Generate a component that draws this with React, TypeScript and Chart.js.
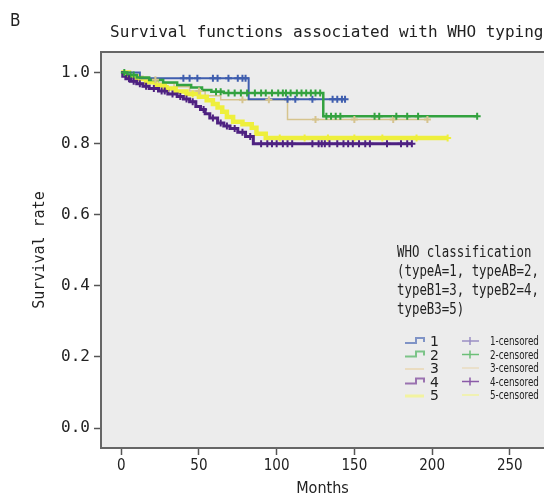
import React, { useEffect, useRef } from "react";
import { Chart, registerables } from "chart.js";

Chart.register(...registerables);

// ---- data ----
const panelLabel = "B";
const chartTitle = "Survival functions associated with WHO typing";
const xAxisTitle = "Months";
const yAxisTitle = "Survival rate";
const xTickValues = [0, 50, 100, 150, 200, 250];
const yTickValues = [0, 0.2, 0.4, 0.6, 0.8, 1.0];

const legendTitleLines = ["WHO classification", "(typeA=1, typeAB=2,", "typeB1=3, typeB2=4,", "typeB3=5)"];
const groupNames = ["1", "2", "3", "4", "5"];
const censorNames = ["1-censored", "2-censored", "3-censored", "4-censored", "5-censored"];

// group 1 (typeA)
const g1Times = [0, 12, 82];
const g1Surv = [1.0, 0.984, 0.925];
const g1Censored = [40, 44, 49, 59, 62, 69, 75, 78, 80, 107, 112, 123, 136, 139, 142, 144];

// group 2 (typeAB)
const g2Times = [0, 4, 10, 18, 27, 36, 45, 52, 58, 66, 130];
const g2Surv = [1.0, 0.993, 0.986, 0.979, 0.972, 0.965, 0.958, 0.951, 0.946, 0.943, 0.877];
const g2Censored = [2, 6, 8, 61, 64, 69, 73, 77, 81, 86, 90, 93, 97, 101, 104, 106, 109, 113, 116, 119, 122, 125, 128, 132, 135, 138, 141, 163, 166, 177, 184, 191, 229];

// group 3 (typeB1)
const g3Times = [0, 6, 14, 24, 34, 44, 54, 64, 107];
const g3Surv = [1.0, 0.99, 0.98, 0.97, 0.96, 0.948, 0.935, 0.924, 0.868];
const g3Censored = [22, 50, 78, 95, 125, 150, 175, 197];

// group 4 (typeB2)
const g4Times = [0, 1, 3, 6, 10, 14, 18, 24, 30, 36, 40, 44, 48, 51, 54, 57, 62, 66, 70, 75, 80, 85];
const g4Surv = [1.0, 0.99, 0.983, 0.976, 0.969, 0.962, 0.955, 0.948, 0.94, 0.933, 0.926, 0.918, 0.905, 0.896, 0.884, 0.872, 0.858, 0.85, 0.843, 0.832, 0.82, 0.8];
const g4Censored = [5, 8, 12, 16, 21, 26, 28, 33, 38, 42, 46, 53, 59, 64, 68, 73, 78, 83, 90, 94, 97, 100, 104, 107, 110, 123, 127, 129, 131, 134, 139, 143, 146, 149, 153, 157, 160, 171, 180, 184, 187];

// group 5 (typeB3)
const g5Times = [0, 5, 10, 16, 22, 28, 35, 42, 50, 55, 59, 62, 65, 68, 72, 78, 84, 87, 93];
const g5Surv = [1.0, 0.99, 0.982, 0.973, 0.964, 0.955, 0.947, 0.94, 0.932, 0.922, 0.912, 0.902, 0.89, 0.875, 0.862, 0.855, 0.845, 0.828, 0.816];
const g5Censored = [30, 46, 102, 118, 133, 150, 168, 190, 210];

// ---- styles ----
const lineColors = ["#3f5eae", "#33a23f", "#d6c48e", "#4e2181", "#eeef3c"];
const legendLineColors = ["#7f93c6", "#7cc488", "#eadcc0", "#9a72b0", "#f2f3a0"];
const legendCrossColors = ["#9a8fc4", "#6cbf78", "#eadcc0", "#8a5aa8", "#f2f3a0"];
const lineWidths = [2, 2.5, 1.5, 3, 4.5];
const drawOrder = [2, 1, 4, 0, 3]; // lower = on top

function survAt(times: number[], surv: number[], t: number) {
  let s = surv[0];
  for (let i = 0; i < times.length; i++) if (times[i] <= t) s = surv[i];
  return s;
}

function buildLine(times: number[], surv: number[], censored: number[]) {
  const pts = times.map((t, i) => ({ x: t, y: surv[i] }));
  const end = Math.max(...censored);
  pts.push({ x: end, y: surv[surv.length - 1] });
  return pts;
}

function buildCensor(times: number[], surv: number[], censored: number[]) {
  return censored.map((t) => ({ x: t, y: survAt(times, surv, t) }));
}

const groups = [
  [g1Times, g1Surv, g1Censored],
  [g2Times, g2Surv, g2Censored],
  [g3Times, g3Surv, g3Censored],
  [g4Times, g4Surv, g4Censored],
  [g5Times, g5Surv, g5Censored],
] as number[][][];

const decorPlugin = {
  id: "decor",
  beforeDraw(chart: any) {
    const { ctx, chartArea } = chart;
    ctx.save();
    ctx.fillStyle = "#ececec";
    ctx.fillRect(chartArea.left, chartArea.top, chart.width - chartArea.left, chartArea.bottom - chartArea.top);
    ctx.restore();
  },
  afterDraw(chart: any) {
    const { ctx, chartArea } = chart;
    ctx.save();
    ctx.fillStyle = "#222";
    ctx.textBaseline = "alphabetic";
    ctx.textAlign = "left";
    ctx.font = '17px "DejaVu Sans Condensed", "DejaVu Sans", sans-serif';
    ctx.fillText(panelLabel, 10, 26);
    ctx.font = '16px "DejaVu Sans Mono", monospace';
    ctx.fillText(chartTitle, 110, 37);

    // top frame
    ctx.strokeStyle = "#666";
    ctx.lineWidth = 2;
    ctx.beginPath();
    ctx.moveTo(chartArea.left - 1, chartArea.top);
    ctx.lineTo(chart.width, chartArea.top);
    ctx.stroke();

    // legend title
    ctx.fillStyle = "#222";
    ctx.save();
    ctx.scale(0.8, 1);
    ctx.font = '15.5px "DejaVu Sans Mono", monospace';
    const baselines = [257, 276, 295, 314];
    legendTitleLines.forEach((l, i) => ctx.fillText(l, 397 / 0.8, baselines[i]));
    ctx.restore();

    // legend items
    const rows = [341, 354.5, 368, 381.5, 395];
    rows.forEach((cy, i) => {
      ctx.strokeStyle = legendLineColors[i];
      ctx.lineWidth = i === 4 ? 3 : 2;
      ctx.beginPath();
      if (i === 2 || i === 4) {
        ctx.moveTo(405, cy + 1);
        ctx.lineTo(424, cy + 1);
      } else {
        ctx.moveTo(405, cy + 2);
        ctx.lineTo(416, cy + 2);
        ctx.lineTo(416, cy - 3);
        ctx.lineTo(424, cy - 3);
        ctx.lineTo(424, cy + 1);
      }
      ctx.stroke();
      // censor icon
      ctx.strokeStyle = legendCrossColors[i];
      ctx.lineWidth = 1.5;
      ctx.beginPath();
      ctx.moveTo(462, cy);
      ctx.lineTo(479, cy);
      if (i !== 2 && i !== 4) {
        ctx.moveTo(470, cy - 4);
        ctx.lineTo(470, cy + 4);
      }
      ctx.stroke();
      ctx.fillStyle = "#222";
      ctx.font = '14px "DejaVu Sans", sans-serif';
      ctx.fillText(groupNames[i], 430, cy + 5);
      ctx.save();
      ctx.scale(0.85, 1);
      ctx.font = '11.5px "DejaVu Sans Condensed", "DejaVu Sans", sans-serif';
      ctx.fillText(censorNames[i], 490 / 0.85, cy + 4);
      ctx.restore();
    });
    ctx.restore();
  },
};

export default function App() {
  const ref = useRef<HTMLCanvasElement | null>(null);
  useEffect(() => {
    if (!ref.current) return;
    const datasets: any[] = [];
    groups.forEach(([t, s, c], i) => {
      datasets.push({
        type: "line",
        label: groupNames[i],
        data: buildLine(t, s, c),
        borderColor: lineColors[i],
        borderWidth: lineWidths[i],
        stepped: true,
        pointRadius: 0,
        fill: false,
        order: drawOrder[i] + 10,
      });
    });
    groups.forEach(([t, s, c], i) => {
      datasets.push({
        type: "scatter",
        label: censorNames[i],
        data: buildCensor(t, s, c),
        showLine: false,
        pointStyle: "cross",
        pointRadius: 3.5,
        pointBorderWidth: 2,
        borderColor: lineColors[i],
        backgroundColor: lineColors[i],
        order: drawOrder[i],
      });
    });
    const chart = new Chart(ref.current, {
      type: "line",
      data: { datasets },
      options: {
        animation: false,
        responsive: false,
        devicePixelRatio: 1,
        layout: { autoPadding: false, padding: { top: 52, left: 0, right: 0, bottom: 0 } },
        plugins: { legend: { display: false }, tooltip: { enabled: false }, title: { display: false } },
        scales: {
          x: {
            type: "linear",
            min: -13,
            max: 272,
            afterFit: (scale: any) => {
              scale.height = 50;
              scale.paddingLeft = 0;
              scale.paddingRight = 0;
            },
            afterBuildTicks: (scale: any) => {
              scale.ticks = xTickValues.map((v) => ({ value: v }));
            },
            grid: { drawOnChartArea: false, drawTicks: true, tickLength: 7, color: "#555", tickWidth: 1.5 },
            border: { display: true, color: "#666", width: 2 },
            ticks: {
              padding: 2,
              color: "#222",
              autoSkip: false,
              maxRotation: 0,
              font: { family: '"DejaVu Sans Condensed", "DejaVu Sans", sans-serif', size: 15 },
            },
            title: {
              display: true,
              text: xAxisTitle,
              color: "#222",
              padding: { top: 0, bottom: 0 },
              font: { family: '"DejaVu Sans Condensed", "DejaVu Sans", sans-serif', size: 16 },
            },
          },
          y: {
            type: "linear",
            min: -0.056,
            max: 1.058,
            afterFit: (scale: any) => {
              scale.width = 101;
              scale.paddingTop = 0;
              scale.paddingBottom = 0;
            },
            afterBuildTicks: (scale: any) => {
              scale.ticks = yTickValues.map((v) => ({ value: v }));
            },
            grid: { drawOnChartArea: false, drawTicks: true, tickLength: 7, color: "#555", tickWidth: 1.5 },
            border: { display: true, color: "#666", width: 2 },
            ticks: {
              padding: 4,
              color: "#222",
              autoSkip: false,
              callback: (v: any) => Number(v).toFixed(1),
              font: { family: '"DejaVu Sans Mono", monospace', size: 16 },
            },
            title: {
              display: true,
              text: yAxisTitle,
              color: "#222",
              padding: { top: 31, bottom: 0 },
              font: { family: '"DejaVu Sans Mono", monospace', size: 15 },
            },
          },
        },
      },
      plugins: [decorPlugin],
    } as any);
    return () => chart.destroy();
  }, []);
  return (
    <div style={{ position: "absolute", left: 0, top: 0, width: 544, height: 498, overflow: "hidden" }}>
      <canvas ref={ref} width={544} height={498} style={{ display: "block", width: 544, height: 498 }} />
    </div>
  );
}
